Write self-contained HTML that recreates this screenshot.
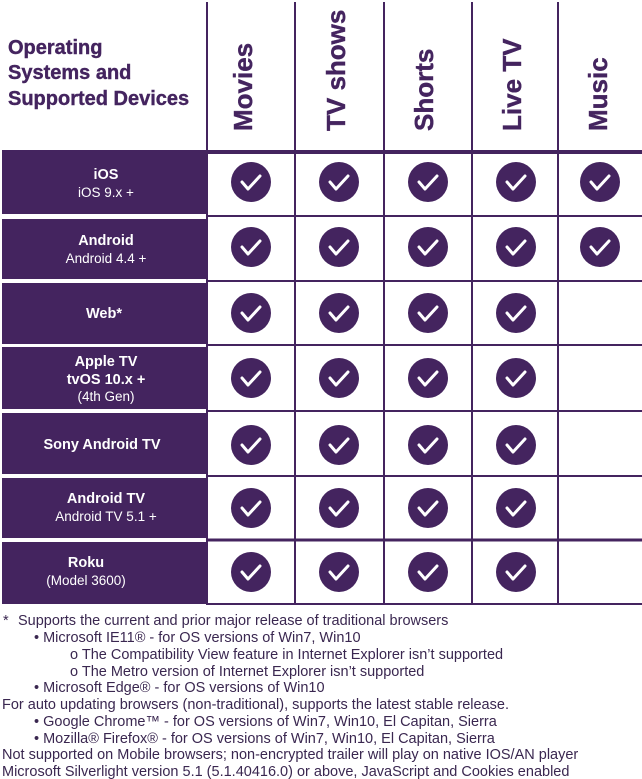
<!DOCTYPE html>
<html><head><meta charset="utf-8"><style>
html,body{margin:0;padding:0;background:#fff;}
svg{display:block;}
</style></head><body>
<svg width="642" height="779" xmlns="http://www.w3.org/2000/svg" font-family="Liberation Sans, sans-serif">
<g fill="#44245f">
<rect x="2" y="150" width="205" height="64"/>
<rect x="2" y="219" width="205" height="60"/>
<rect x="2" y="283" width="205" height="61"/>
<rect x="2" y="347" width="205" height="62"/>
<rect x="2" y="413" width="205" height="61"/>
<rect x="2" y="478" width="205" height="60"/>
<rect x="2" y="542" width="205" height="62"/>
</g>
<g stroke="#44245f" stroke-width="2">
<line x1="207" y1="2" x2="207" y2="605"/>
<line x1="295" y1="2" x2="295" y2="605"/>
<line x1="384" y1="2" x2="384" y2="605"/>
<line x1="472" y1="2" x2="472" y2="605"/>
<line x1="558" y1="2" x2="558" y2="605"/>
<line x1="207" y1="152" x2="642" y2="152" stroke-width="4"/>
<line x1="207" y1="216" x2="642" y2="216"/>
<line x1="207" y1="281" x2="642" y2="281"/>
<line x1="207" y1="345" x2="642" y2="345"/>
<line x1="207" y1="411" x2="642" y2="411"/>
<line x1="207" y1="476" x2="642" y2="476"/>
<line x1="207" y1="540" x2="642" y2="540" stroke-width="3"/>
<line x1="207" y1="604" x2="642" y2="604"/>
</g>
<g fill="#44245f" font-weight="700" font-size="20" stroke="#44245f" stroke-width="0.4">
<text x="8" y="54">Operating</text>
<text x="8" y="79">Systems and</text>
<text x="8" y="105">Supported Devices</text>
</g>
<g fill="#44245f" font-weight="700" font-size="26" stroke="#44245f" stroke-width="0.4">
<text transform="translate(252,131) rotate(-90)">Movies</text>
<text transform="translate(345,131) rotate(-90)">TV shows</text>
<text transform="translate(433,131) rotate(-90)">Shorts</text>
<text transform="translate(521,131) rotate(-90)">Live TV</text>
<text transform="translate(607,131) rotate(-90)">Music</text>
</g>
<g fill="#fff" text-anchor="middle" font-size="13.5">
<text x="106" y="179" font-weight="bold" font-size="14.5">iOS</text>
<text x="106" y="197">iOS 9.x +</text>
<text x="106" y="245" font-weight="bold" font-size="14.5">Android</text>
<text x="106" y="263">Android 4.4 +</text>
<text x="104" y="318" font-weight="bold" font-size="14.5">Web*</text>
<text x="106" y="366" font-weight="bold" font-size="14.5">Apple TV</text>
<text x="106" y="384" font-weight="bold" font-size="14.5">tvOS 10.x +</text>
<text x="106" y="401">(4th Gen)</text>
<text x="102" y="449" font-weight="bold" font-size="14.5">Sony Android TV</text>
<text x="106" y="503" font-weight="bold" font-size="14.5">Android TV</text>
<text x="106" y="521">Android TV 5.1 +</text>
<text x="86" y="567" font-weight="bold" font-size="14.5">Roku</text>
<text x="86" y="585">(Model 3600)</text>
</g>
<defs>
<g id="c"><circle r="20" fill="#44245f"/><path d="M-9,0 L-3,7 L9,-6" fill="none" stroke="#fff" stroke-width="3" stroke-linecap="round" stroke-linejoin="round"/></g>
</defs>
<use href="#c" x="251" y="182"/><use href="#c" x="339" y="182"/><use href="#c" x="428" y="182"/><use href="#c" x="516" y="182"/><use href="#c" x="600" y="182"/>
<use href="#c" x="251" y="247"/><use href="#c" x="339" y="247"/><use href="#c" x="428" y="247"/><use href="#c" x="516" y="247"/><use href="#c" x="600" y="247"/>
<use href="#c" x="251" y="313"/><use href="#c" x="339" y="313"/><use href="#c" x="428" y="313"/><use href="#c" x="516" y="313"/>
<use href="#c" x="251" y="378"/><use href="#c" x="339" y="378"/><use href="#c" x="428" y="378"/><use href="#c" x="516" y="378"/>
<use href="#c" x="251" y="445"/><use href="#c" x="339" y="445"/><use href="#c" x="428" y="445"/><use href="#c" x="516" y="445"/>
<use href="#c" x="251" y="508"/><use href="#c" x="339" y="508"/><use href="#c" x="428" y="508"/><use href="#c" x="516" y="508"/>
<use href="#c" x="251" y="572"/><use href="#c" x="339" y="572"/><use href="#c" x="428" y="572"/><use href="#c" x="516" y="572"/>
<g fill="#3a2750" font-size="14.5">
<text x="3" y="625">*</text><text x="18" y="625">Supports the current and prior major release of traditional browsers</text>
<text x="34" y="642">• Microsoft IE11® - for OS versions of Win7, Win10</text>
<text x="70" y="659">o The Compatibility View feature in Internet Explorer isn’t supported</text>
<text x="70" y="676">o The Metro version of Internet Explorer isn’t supported</text>
<text x="34" y="692">• Microsoft Edge® - for OS versions of Win10</text>
<text x="2" y="709">For auto updating browsers (non-traditional), supports the latest stable release.</text>
<text x="34" y="726">• Google Chrome™ - for OS versions of Win7, Win10, El Capitan, Sierra</text>
<text x="34" y="743">• Mozilla® Firefox® - for OS versions of Win7, Win10, El Capitan, Sierra</text>
<text x="2" y="759">Not supported on Mobile browsers; non-encrypted trailer will play on native IOS/AN player</text>
<text x="2" y="776">Microsoft Silverlight version 5.1 (5.1.40416.0) or above, JavaScript and Cookies enabled</text>
</g>
</svg>
</body></html>
